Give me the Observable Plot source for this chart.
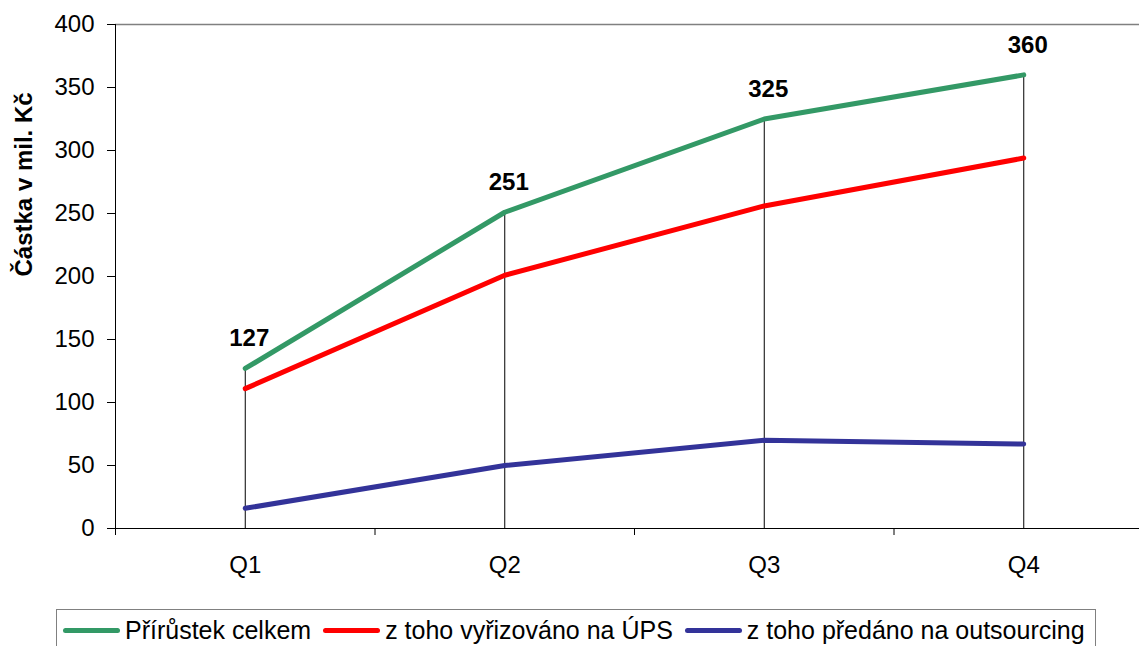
<!DOCTYPE html>
<html>
<head>
<meta charset="utf-8">
<script src="https://cdn.jsdelivr.net/npm/d3@7"></script>
<script src="https://cdn.jsdelivr.net/npm/@observablehq/plot@0.6"></script>
<style>
  html, body { margin: 0; padding: 0; background: #fff; overflow: hidden; }
  body { font-family: "Liberation Sans", Arial, sans-serif; width: 1139px; height: 646px; position: relative; }
  #chart svg { display: block; }
  #legend {
    position: absolute; left: 56px; top: 609px; width: 1040px; height: 48px;
    box-sizing: border-box; border: 1px solid #808080; background: #fff;
    padding: 5px 0 0 6px; display: flex; align-items: flex-start;
    font-size: 25px; color: #000; line-height: 30px;
  }
  .item { display: flex; align-items: center; margin-right: 12px; white-space: nowrap; }
  .sw { width: 57px; height: 5px; border-radius: 3px; margin-right: 5px; }
</style>
</head>
<body>
<div id="chart"></div>
<div id="legend"></div>
<script>
const categories = ["Q1", "Q2", "Q3", "Q4"];
const seriesNames = ["Přírůstek celkem", "z toho vyřizováno na ÚPS", "z toho předáno na outsourcing"];
const total = [127, 251, 325, 360];
const ups = [111, 201, 256, 294];
const outsourcing = [16, 50, 70, 67];
const yTicks = [0, 50, 100, 150, 200, 250, 300, 350, 400];
const yAxisTitle = "Částka v mil. Kč";
const colors = ["#339966", "#ff0000", "#333399"];

const rows = [];
[total, ups, outsourcing].forEach((vals, s) =>
  vals.forEach((v, i) => rows.push({series: seriesNames[s], pos: i + 0.5, value: v}))
);
const totalRows = total.map((v, i) => ({pos: i + 0.5, value: v}));
const boundaries = d3.range(categories.length + 1);
const centers = categories.map((_, i) => i + 0.5);

const chart = Plot.plot({
  width: 1139,
  height: 605,
  marginLeft: 115,
  marginRight: 0,
  marginTop: 24,
  marginBottom: 77,
  style: {fontFamily: "'Liberation Sans', Arial, sans-serif", fontSize: "24px", background: "#fff", color: "#000"},
  x: {type: "linear", domain: [0, categories.length], range: [115, 1153]},
  y: {domain: [0, 400], range: [528, 24]},
  color: {domain: seriesNames, range: colors},
  marks: [
    Plot.ruleY([400], {stroke: "#808080", strokeWidth: 1.5}),
    Plot.ruleX(totalRows, {x: "pos", y1: 0, y2: "value", stroke: "#000", strokeWidth: 1}),
    Plot.line(rows, {x: "pos", y: "value", z: "series", stroke: "series", strokeWidth: 5, strokeLinecap: "round", strokeLinejoin: "round"}),
    Plot.ruleY([0], {stroke: "#000", strokeWidth: 1}),
    Plot.ruleX([0], {stroke: "#000", strokeWidth: 1}),
    Plot.axisY(yTicks, {tickSize: 8, tickPadding: 13, fontSize: 24, label: null, tickFormat: d => String(d)}),
    Plot.axisX(boundaries, {tickSize: 7, tickFormat: () => "", label: null}),
    Plot.axisX(centers, {tickSize: 0, tickPadding: 27, fontSize: 24, label: null, tickFormat: d => categories[Math.floor(d)]}),
    Plot.text(totalRows, {x: "pos", y: "value", text: d => String(d.value), fontWeight: "bold", fontSize: 24, lineAnchor: "bottom", dy: -22, dx: 4}),
    Plot.text([yAxisTitle], {frameAnchor: "left", text: d => d, rotate: -90, dx: -91, fontWeight: "bold", fontSize: 24})
  ]
});
document.getElementById("chart").appendChild(chart);

const legend = document.getElementById("legend");
seriesNames.forEach((name, i) => {
  const item = document.createElement("div");
  item.className = "item";
  const sw = document.createElement("div");
  sw.className = "sw";
  sw.style.background = colors[i];
  const label = document.createElement("span");
  label.textContent = name;
  item.appendChild(sw);
  item.appendChild(label);
  legend.appendChild(item);
});
</script>
</body>
</html>
